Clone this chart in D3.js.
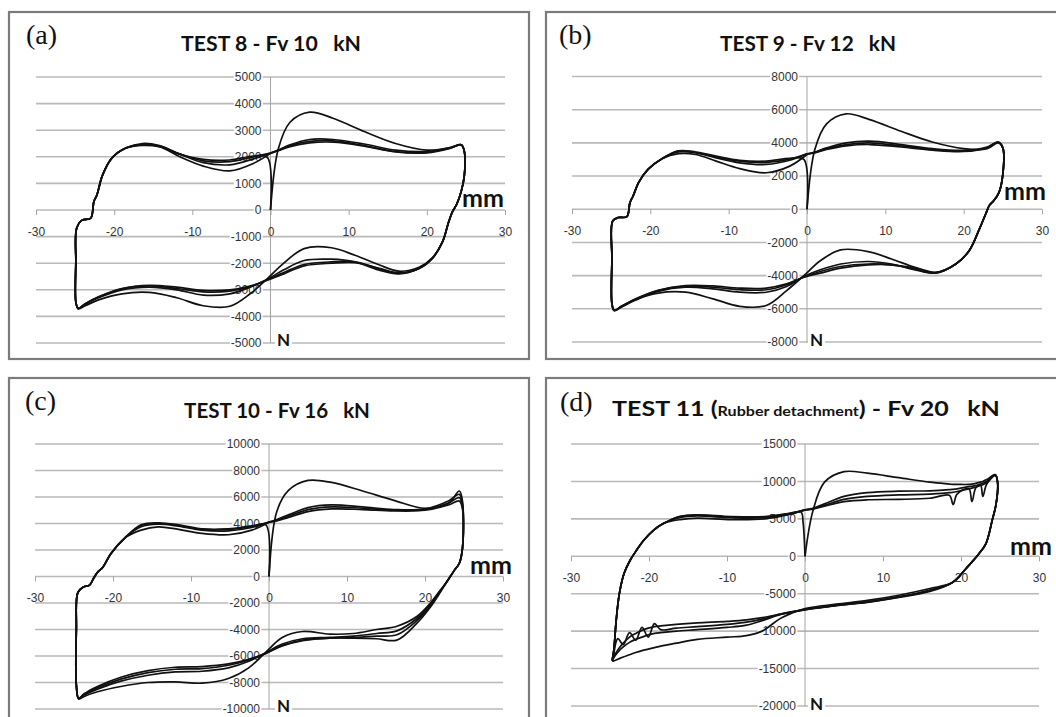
<!DOCTYPE html>
<html>
<head>
<meta charset="utf-8">
<script src="https://cdn.jsdelivr.net/npm/d3@7"></script>
<style>
  body { margin: 0; background: #fff; }
  svg { display: block; }
</style>
</head>
<body>
<div id="container"></div>
<script>
/* DATA */
// x ticks shared by all four panels (mm)
const xTicks = [-30, -20, -10, 0, 10, 20, 30];

// force ticks (N)
const aYTicks = [5000, 4000, 3000, 2000, 1000, 0, -1000, -2000, -3000, -4000, -5000];
const bYTicks = [8000, 6000, 4000, 2000, 0, -2000, -4000, -6000, -8000];
const cYTicks = [10000, 8000, 6000, 4000, 2000, 0, -2000, -4000, -6000, -8000, -10000];
const dYTicks = [15000, 10000, 5000, 0, -5000, -10000, -15000, -20000];

// displacement (mm) along one loop: upper branch to the right, right reversal,
// lower branch back to the left, left reversal, upper branch up to x = 0
const aPathX = [0, 1, 2.5, 5, 8, 12, 16, 20, 23, 24.4,
  24.8, 24.8, 24.4, 23.8, 23.3, 22.8, 22, 20.7, 19,
  16.4, 13.8, 10.8, 7.8, 4.3, 1.7, -0.4, -2.6, -5.2, -8.6, -12, -15.5, -19, -22, -23.7, -24.6,
  -24.9, -24.9, -24.8, -24.1, -23, -22.6, -22.2, -21.5, -20.3, -18.5,
  -16.4, -14.2, -11.6, -8.6, -5.2, -2.2, 0];
// TEST 8 force (N), one array per cycle
const aF1 = [0, 2300, 3300, 3680, 3450, 2950, 2500, 2250, 2350, 2450,
  2200, 1300, 700, 200, -50, -440, -1200, -1800, -2150,
  -2300, -2050, -1700, -1420, -1450, -2000, -2580, -3150, -3620, -3600, -3300, -3100, -3150, -3380, -3600, -3720,
  -3460, -1950, -690, -380, -310, 310, 570, 1300, 1950, 2330,
  2450, 2380, 2000, 1650, 1470, 1750, 2130];
const aF2 = [2130, 2250, 2450, 2650, 2650, 2480, 2250, 2200, 2350, 2450,
  2200, 1300, 700, 200, -50, -440, -1200, -1820, -2200,
  -2400, -2250, -1950, -1850, -1900, -2250, -2600, -2900, -3150, -3200, -3000, -2900, -3000, -3300, -3550, -3700,
  -3460, -1950, -690, -380, -310, 310, 570, 1300, 1950, 2330,
  2500, 2420, 2100, 1780, 1700, 1920, 2140];
const aF3 = [2140, 2250, 2420, 2580, 2600, 2420, 2200, 2170, 2330, 2450,
  2200, 1300, 700, 200, -50, -440, -1200, -1820, -2200,
  -2380, -2200, -1950, -1950, -2050, -2350, -2620, -2880, -3050, -3080, -2950, -2850, -2960, -3270, -3520, -3700,
  -3460, -1950, -690, -380, -310, 310, 570, 1300, 1950, 2330,
  2450, 2400, 2100, 1850, 1820, 2000, 2140];
const aF4 = [2140, 2230, 2380, 2520, 2550, 2400, 2180, 2150, 2320, 2450,
  2200, 1300, 700, 200, -50, -440, -1200, -1820, -2200,
  -2360, -2180, -1980, -2000, -2100, -2400, -2640, -2860, -3000, -3020, -2900, -2830, -2950, -3260, -3520, -3700,
  -3460, -1950, -690, -380, -310, 310, 570, 1300, 1950, 2330,
  2430, 2380, 2100, 1900, 1880, 2030, 2140];
const aEndX = [-0.4, 0];
const aEndF = [1980, 0];

// TEST 9
const bPathX = [0, 1, 2.5, 5, 8, 12, 16, 20, 23, 24.4,
  25, 25, 24.5, 23.8, 23.3, 22.8, 22, 20.7, 19,
  16.4, 13.8, 10.8, 7.8, 4.3, 1.7, -0.4, -2.6, -5.2, -8.6, -12, -15.5, -19, -22, -23.7, -24.6,
  -24.9, -24.9, -24.8, -24.1, -23, -22.6, -22.2, -21.5, -20.3, -18.5,
  -16.4, -14.2, -11.6, -8.6, -5.2, -2.2, 0];
const bF1 = [0, 3600, 5150, 5750, 5400, 4700, 4050, 3650, 3650, 4000,
  3700, 2100, 1000, 500, 250, -300, -1200, -2500, -3300,
  -3800, -3500, -3000, -2550, -2450, -3100, -4000, -4900, -5800, -5850, -5400, -5000, -5050, -5450, -5850, -6100,
  -5700, -3000, -700, -500, -450, 400, 800, 1600, 2400, 3050,
  3350, 3300, 2900, 2450, 2200, 2600, 3300];
const bF2 = [3300, 3450, 3700, 4000, 4100, 3900, 3650, 3550, 3750, 4050,
  3700, 2100, 1000, 500, 250, -300, -1200, -2500, -3300,
  -3850, -3650, -3300, -3150, -3300, -3650, -4050, -4650, -5000, -5000, -4800, -4700, -4950, -5500, -5900, -6100,
  -5700, -3000, -700, -500, -450, 400, 800, 1600, 2400, 3050,
  3450, 3400, 3100, 2800, 2700, 2950, 3340];
const bF3 = [3340, 3420, 3650, 3900, 4000, 3820, 3600, 3500, 3720, 4050,
  3700, 2100, 1000, 500, 250, -300, -1200, -2500, -3300,
  -3850, -3600, -3350, -3300, -3450, -3750, -4080, -4550, -4850, -4850, -4700, -4650, -4900, -5450, -5880, -6100,
  -5700, -3000, -700, -500, -450, 400, 800, 1600, 2400, 3050,
  3500, 3420, 3150, 2900, 2820, 3020, 3340];
const bF4 = [3340, 3400, 3600, 3820, 3900, 3750, 3560, 3480, 3700, 4050,
  3700, 2100, 1000, 500, 250, -300, -1200, -2500, -3300,
  -3820, -3550, -3350, -3350, -3550, -3850, -4100, -4500, -4750, -4750, -4620, -4600, -4880, -5420, -5850, -6100,
  -5700, -3000, -700, -500, -450, 400, 800, 1600, 2400, 3050,
  3520, 3450, 3200, 2950, 2900, 3070, 3340];
const bEndX = [-0.4, 0];
const bEndF = [3000, 0];

// TEST 10
const cPathX = [0, 1, 2.5, 5, 8, 12, 16, 20, 23, 24.4,
  24.8, 24.8, 24.4, 23.8, 23.3, 22.8, 22, 20.7, 19,
  16.4, 13.8, 10.8, 7.8, 4.3, 1.7, -0.4, -2.6, -5.2, -8.6, -12, -15.5, -19, -22, -23.7, -24.4,
  -24.7, -24.7, -24.5, -23.8, -23, -22.5, -22, -21.3, -20.3, -18.5,
  -16.4, -14.2, -11.6, -8.6, -5.2, -2.2, 0];
const cF1 = [0, 4900, 6500, 7250, 7100, 6450, 5750, 5150, 5500, 6450,
  5700, 2100, 1000, 500, 50, -400, -1000, -2000, -3000,
  -3750, -4000, -4300, -4350, -4150, -4600, -5700, -6900, -7700, -8050, -7950, -8000, -8300, -8700, -9050, -9250,
  -8200, -4000, -1200, -800, -650, -150, 300, 700, 1700, 2900,
  3500, 3750, 3550, 3250, 3150, 3500, 4100];
const cF2 = [4100, 4300, 4650, 5200, 5400, 5250, 5050, 5100, 5700, 6200,
  5500, 2100, 1000, 500, 50, -400, -1050, -2100, -3150,
  -4100, -4300, -4500, -4600, -4700, -5100, -5750, -6400, -6900, -7150, -7200, -7450, -7900, -8500, -8950, -9200,
  -8200, -4000, -1200, -800, -650, -150, 300, 700, 1700, 2900,
  3750, 3950, 3800, 3500, 3450, 3700, 4100];
const cF3 = [4100, 4250, 4550, 5050, 5250, 5150, 5000, 5050, 5550, 5950,
  5300, 2100, 1000, 500, 50, -400, -1100, -2200, -3300,
  -4400, -4500, -4600, -4650, -4800, -5200, -5800, -6300, -6700, -6950, -7000, -7250, -7750, -8400, -8900, -9200,
  -8200, -4000, -1200, -800, -650, -150, 300, 700, 1700, 2900,
  3850, 4000, 3850, 3550, 3550, 3780, 4100];
const cF4 = [4100, 4200, 4450, 4900, 5100, 5050, 4950, 5000, 5400, 5700,
  5100, 2100, 1000, 500, 50, -400, -1150, -2300, -3500,
  -4800, -4700, -4650, -4650, -4850, -5250, -5800, -6250, -6600, -6800, -6850, -7100, -7600, -8300, -8850, -9200,
  -8200, -4000, -1200, -800, -650, -150, 300, 700, 1700, 2900,
  3900, 4050, 3900, 3600, 3600, 3820, 4100];
const cEndX = [-0.4, 0];
const cEndF = [3900, 0];

// TEST 11 (rubber detachment)
const dPathX = [0, 1, 2.5, 5, 8, 12, 16, 18.5, 19, 19.5, 21, 21.4, 21.9, 22.5, 22.8, 23.3, 24.4,
  24.7, 24.5, 24.0, 23.2, 22.3, 21.2, 20.6, 18.9,
  16, 12, 8, 4, 0, -3, -5.5, -7.5, -10, -13.8, -16.5, -18.5, -19.3, -20.1, -20.9, -21.7, -22.5, -23.3, -24, -24.6,
  -24.7, -24.5, -24.2, -23.8, -23.2, -22.4, -21.6, -20.7, -19.4, -18.1,
  -16, -13.8, -9.5, -5.2, -2, 0];
const dF1 = [0, 6000, 9900, 11300, 11100, 10500, 9900, 9650, 9600, 9600, 9600, 9650, 9750, 9900, 10000, 10250, 10900,
  9800, 7000, 4800, 1700, 350, -990, -1700, -3500,
  -4300, -5200, -5900, -6400, -7000, -8200, -10000, -10600, -10800, -11100, -11600, -12000, -12200, -12400, -12600, -12850, -13150, -13450, -13750, -14000,
  -13900, -12500, -8500, -5000, -2300, -500, 800, 2100, 3500, 4400,
  4900, 5100, 4900, 5000, 5600, 6200];
const dF2 = [6200, 6400, 7000, 8000, 8500, 8700, 8750, 8900, 8950, 9000, 9300, 9350, 9450, 9650, 9750, 10000, 10900,
  9800, 7000, 4800, 1700, 350, -990, -1700, -3500,
  -4500, -5400, -6100, -6550, -7100, -7700, -8200, -8500, -8700, -8900, -9100, -9300, -9400, -9600, -9900, -10300, -10800, -11600, -12500, -13600,
  -13900, -12500, -8500, -5000, -2300, -500, 800, 2100, 3500, 4400,
  5200, 5400, 5150, 5150, 5650, 6200];
const dF3 = [6200, 6350, 6800, 7600, 8000, 8200, 8300, 8500, 8550, 8650, 9000, 9100, 9250, 9450, 9550, 9850, 10850,
  9800, 7000, 4800, 1700, 350, -990, -1700, -3500,
  -4600, -5450, -6100, -6550, -7120, -7700, -8400, -8800, -9100, -9400, -9600, -9800, -9000, -10800, -9500, -11200, -10200, -11800, -11000, -13500,
  -13900, -12500, -8500, -5000, -2300, -500, 800, 2100, 3500, 4400,
  5300, 5500, 5250, 5250, 5700, 6200];
const dF4 = [6200, 6300, 6700, 7300, 7550, 7600, 7750, 8150, 6900, 8300, 9050, 7300, 9150, 9550, 8000, 9650, 10800,
  9800, 7000, 4800, 1700, 350, -990, -1700, -3500,
  -4700, -5500, -6150, -6600, -7150, -7750, -8600, -9200, -9500, -9800, -10000, -10200, -10300, -10500, -10800, -11100, -11500, -12100, -12800, -13700,
  -13900, -12500, -8500, -5000, -2300, -500, 800, 2100, 3500, 4400,
  5350, 5550, 5300, 5300, 5750, 6200];
const dEndX = [-0.5, -0.25, 0];
const dEndF = [5900, 4600, 0];

/* LAYOUT */
const width = 1056, height = 717;

const panels = [
  {letter: "(a)", lx: 26, ly: 44, frame: [9, 12, 529, 359], xr: [36, 505], yr: [343, 77], yd: [-5000, 5000],
   yTicks: aYTicks, pathX: aPathX, cycles: [aF1, aF2, aF3, aF4], endX: aEndX, endF: aEndF,
   title: [["TEST 8 - Fv 10   kN", 21]], tx: 271, ty: 51, tw: 180, tAnchor: "middle",
   mm: [462, 207], n: [277, 346]},
  {letter: "(b)", lx: 559, ly: 44, frame: [546, 12, 1070, 359], xr: [572, 1042], yr: [342, 76.5], yd: [-8000, 8000],
   yTicks: bYTicks, pathX: bPathX, cycles: [bF1, bF2, bF3, bF4], endX: bEndX, endF: bEndF,
   title: [["TEST 9 - Fv 12   kN", 21]], tx: 808, ty: 51, tw: 176, tAnchor: "middle",
   mm: [1004, 200], n: [810, 346]},
  {letter: "(c)", lx: 25, ly: 410, frame: [9, 378, 529, 730], xr: [35, 503], yr: [709, 444], yd: [-10000, 10000],
   yTicks: cYTicks, pathX: cPathX, cycles: [cF1, cF2, cF3, cF4], endX: cEndX, endF: cEndF,
   title: [["TEST 10 - Fv 16   kN", 21]], tx: 277, ty: 418, tw: 186, tAnchor: "middle",
   mm: [470, 574], n: [277, 712]},
  {letter: "(d)", lx: 560, ly: 411, frame: [546, 378, 1070, 730], xr: [571, 1039], yr: [706, 444], yd: [-20000, 15000],
   yTicks: dYTicks, pathX: dPathX, cycles: [dF1, dF2, dF3, dF4], endX: dEndX, endF: dEndF,
   title: [["TEST 11 (", 21], ["Rubber detachment", 13.5], [") - Fv 20   kN", 21]], tx: 612, ty: 416, tw: 388, tAnchor: "start",
   mm: [1010, 555], n: [810, 710]}
];

/* SVG */
const svg = d3.select("#container")
  .append("svg")
  .attr("width", width)
  .attr("height", height)
  .style("background-color", "#fff");

panels.forEach(p => {
  const g = svg.append("g");

  // frame
  g.append("rect")
    .attr("x", p.frame[0]).attr("y", p.frame[1])
    .attr("width", p.frame[2] - p.frame[0]).attr("height", p.frame[3] - p.frame[1])
    .attr("fill", "#fff").attr("stroke", "#7b7b7b").attr("stroke-width", 2.2);

  /* SCALES */
  const xScale = d3.scaleLinear().domain([-30, 30]).range(p.xr);
  const yScale = d3.scaleLinear().domain(p.yd).range(p.yr);
  const x0 = xScale(0), y0 = yScale(0);

  // horizontal gridlines
  g.selectAll(".grid")
    .data(p.yTicks)
    .join("line")
    .attr("class", "grid")
    .attr("x1", p.xr[0]).attr("x2", p.xr[1])
    .attr("y1", d => yScale(d)).attr("y2", d => yScale(d))
    .attr("stroke", "#b9b9b9").attr("stroke-width", 1.6);

  // vertical axis line at x = 0
  g.append("line")
    .attr("x1", x0).attr("x2", x0)
    .attr("y1", yScale(p.yTicks[0])).attr("y2", yScale(p.yTicks[p.yTicks.length - 1]))
    .attr("stroke", "#a5a5a5").attr("stroke-width", 1);

  // x axis (ticks + labels)
  const xAxis = g.append("g")
    .attr("transform", `translate(0,${y0})`)
    .call(d3.axisBottom(xScale).tickValues(xTicks).tickFormat(d => String(d))
      .tickSizeInner(5).tickSizeOuter(0).tickPadding(12));
  xAxis.select(".domain").remove();
  xAxis.selectAll(".tick line").attr("stroke", "#a5a5a5");
  xAxis.selectAll("text")
    .attr("fill", "#333")
    .style("font-family", "'Liberation Sans', Arial, sans-serif")
    .style("font-size", "12px");

  // y axis labels sitting on the gridlines
  const yAxis = g.append("g")
    .attr("transform", `translate(${x0},0)`)
    .call(d3.axisLeft(yScale).tickValues(p.yTicks).tickFormat(d => String(d))
      .tickSize(0).tickPadding(9));
  yAxis.select(".domain").remove();
  yAxis.selectAll("text")
    .attr("fill", "#333")
    .style("font-family", "'Liberation Sans', Arial, sans-serif")
    .style("font-size", "12px");
  yAxis.selectAll(".tick").each(function () {
    const t = d3.select(this).select("text");
    const bb = t.node().getBBox();
    d3.select(this).insert("rect", "text")
      .attr("x", bb.x - 1).attr("y", bb.y + 1)
      .attr("width", bb.width + 2).attr("height", bb.height - 2)
      .attr("fill", "#fff");
  });

  /* CURVES */
  const line = d3.line()
    .x(d => xScale(d[0]))
    .y(d => yScale(d[1]))
    .curve(d3.curveCatmullRom.alpha(0.5));

  p.cycles.forEach((F, i) => {
    let pts = p.pathX.map((x, j) => [x, F[j]]);
    if (i === p.cycles.length - 1) {
      pts = pts.slice(0, -1).concat(p.endX.map((x, j) => [x, p.endF[j]]));
    }
    g.append("path")
      .datum(pts)
      .attr("d", line)
      .attr("fill", "none")
      .attr("stroke", "#111")
      .attr("stroke-width", 1.7)
      .attr("stroke-linejoin", "round");
  });

  // unit labels
  g.append("text")
    .attr("x", p.mm[0]).attr("y", p.mm[1])
    .text("mm")
    .style("font-family", "Lato, 'Open Sans', sans-serif")
    .style("font-weight", "bold")
    .style("font-size", "25px")
    .attr("fill", "#111");

  const nText = g.append("text")
    .attr("x", p.n[0]).attr("y", p.n[1])
    .text("N")
    .style("font-family", "Lato, 'Open Sans', sans-serif")
    .style("font-weight", "bold")
    .style("font-size", "17px")
    .attr("fill", "#111");
  const nb = nText.node().getBBox();
  g.insert("rect", () => nText.node())
    .attr("x", nb.x - 2).attr("y", nb.y + 2)
    .attr("width", nb.width + 4).attr("height", nb.height - 4)
    .attr("fill", "#fff");

  // panel letter
  g.append("text")
    .attr("x", p.lx).attr("y", p.ly)
    .text(p.letter)
    .style("font-family", "'Liberation Serif', 'Times New Roman', serif")
    .style("font-size", "28px")
    .attr("fill", "#111");

  // title, fitted to its width in the reference
  const title = g.append("text")
    .attr("text-anchor", p.tAnchor)
    .style("font-family", "Lato, 'Open Sans', sans-serif")
    .style("font-weight", "bold")
    .style("white-space", "pre")
    .attr("fill", "#111");
  p.title.forEach(([s, fs]) => {
    title.append("tspan").text(s).style("font-size", fs + "px");
  });
  const tl = title.node().getComputedTextLength();
  title.attr("transform", `translate(${p.tx},${p.ty}) scale(${p.tw / tl},1)`);
});
</script>
</body>
</html>
